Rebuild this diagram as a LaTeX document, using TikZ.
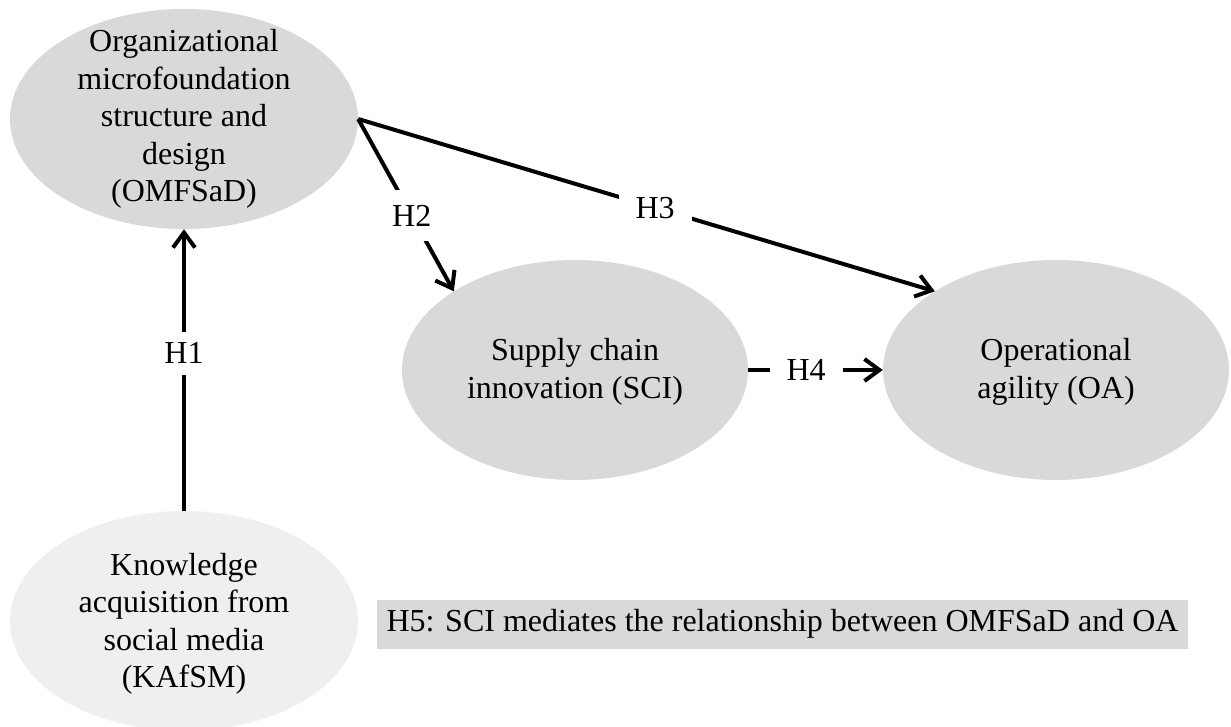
\documentclass[tikz,border=0pt]{standalone}
\usepackage{fontspec}
\setmainfont{Liberation Serif}
\usetikzlibrary{shapes.geometric,arrows.meta}
\definecolor{nodegray}{HTML}{D9D9D9}
\definecolor{palegray}{HTML}{EFEFEF}
\begin{document}
\begin{tikzpicture}[x=1pt,y=-1pt,
  ell/.style={ellipse,fill=#1,draw=none,minimum width=348pt,minimum height=220pt,inner sep=0pt},
  lbl/.style={align=center,font=\fontsize{32}{37.5}\selectfont,inner sep=0pt},
  conn/.style={line width=4pt,-{Straight Barb[length=15pt,width=22pt]}},
  hyp/.style={fill=white,font=\fontsize{32}{37.5}\selectfont,inner xsep=17pt,inner ysep=6pt}]
\useasboundingbox (0,0) rectangle (1231,727);
% ellipses
\node[ell=nodegray] (omf) at (184,119) {};
\node[ell=nodegray, minimum width=346pt] (sci) at (575,370) {};
\node[ell=nodegray, minimum width=346pt] (oa) at (1056,370) {};
\node[ell=palegray] (kafsm) at (184,621) {};
% connectors
\draw[conn] (kafsm.north) -- (omf.south) node[hyp,pos=0.56,inner ysep=11pt] (h1) {H1};
\draw[conn] (omf.east) -- (sci.147) node[hyp,pos=0.56,inner ysep=15pt] (h2) {H2};
\draw[conn] (omf.east) -- (oa.147) node[hyp,pos=0.515] (h3) {H3};
\draw[conn] (sci.east) -- (oa.west) node[hyp,pos=0.43] (h4) {H4};
% texts
\node[lbl] (omft) at (omf) {Organizational\\microfoundation\\structure and\\design\\(OMFSaD)};
\node[lbl] (scit) at ([yshift=-2pt]sci.center) {Supply chain\\innovation (SCI)};
\node[lbl] (oat) at ([yshift=-2pt]oa.center) {Operational\\agility (OA)};
\node[lbl] (kafsmt) at ([yshift=-3pt]kafsm.center) {Knowledge\\acquisition from\\social media\\(KAfSM)};
% H5 box
\node[fill=nodegray,minimum width=811pt,minimum height=49pt,inner sep=0pt,font=\fontsize{32}{37.5}\selectfont] (h5) at (782.5,624) {H5: SCI mediates the relationship between OMFSaD and OA};
\end{tikzpicture}
\end{document}
